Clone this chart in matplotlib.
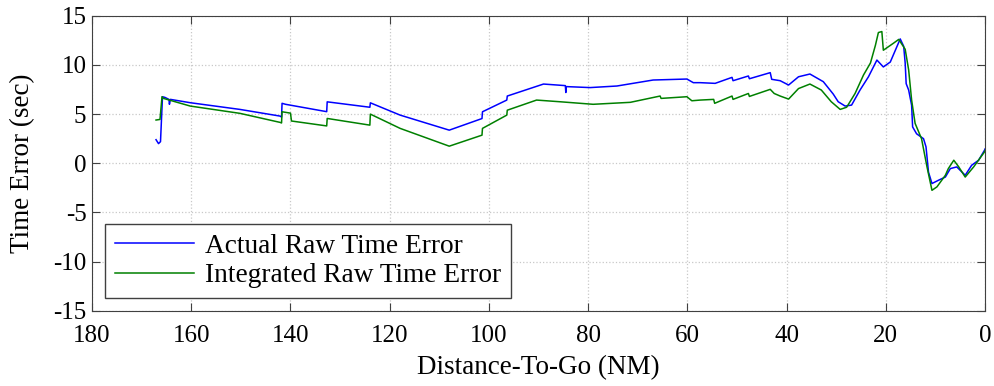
import matplotlib.pyplot as plt

# --- data (distance-to-go in NM, time error in sec)
actual_x = [167.1, 166.6, 166.2, 165.8, 165.3, 164.5, 164.4, 164.2, 160.2, 150.2, 142.1, 141.8, 141.7, 141.0,
            132.7, 132.6, 124.0, 123.9, 117.9, 108.0, 101.4, 101.3, 96.4, 96.3, 89.0, 84.6, 84.5,
            84.4, 79.6, 74.2, 66.9, 60.1, 58.8, 57.4, 54.4, 51.0, 50.8, 47.7, 47.5, 43.3, 43.0,
            41.3, 39.6, 37.6, 35.3, 32.6, 30.6, 29.6, 28.2, 26.9, 25.2, 23.5, 21.8, 20.5, 19.1,
            17.1, 16.4, 16.1, 15.9, 15.4, 14.8, 14.6, 13.8, 12.4, 11.9, 11.4, 10.7, 9.4, 8.0, 7.0,
            5.7, 4.0, 2.7, 1.3, 0.1, 0.0]
actual_y = [2.4, 2.0, 2.2, 6.77, 6.7, 6.5, 6.0, 6.5, 6.16, 5.48, 4.8, 4.7, 6.1, 6.0,
            5.25, 6.25, 5.7, 6.15, 4.9, 3.37, 4.55, 5.24, 6.43, 6.84, 8.06, 7.9, 7.2,
            7.8, 7.7, 7.86, 8.47, 8.57, 8.2, 8.2, 8.13, 8.74, 8.4, 8.88, 8.6, 9.22, 8.54,
            8.4, 7.96, 8.8, 9.08, 8.3, 7.04, 6.26, 5.82, 5.92, 7.45, 8.8, 10.5, 9.8, 10.3,
            12.65, 11.9, 10.2, 8.1, 7.45, 5.9, 3.7, 3.0, 2.5, 1.67, -0.9, -2.06, -1.73, -1.4, -0.54,
            -0.37, -1.22, -0.2, 0.31, 1.33, 1.45]

integrated_x = [167.1, 166.3, 165.9, 165.6, 160.2, 150.2, 142.1, 141.8, 141.7, 140.0, 139.8,
                132.7, 132.6, 124.0, 123.9, 117.9, 108.0, 101.4, 101.3, 96.4, 96.3, 90.4, 85.7,
                79.0, 71.5, 65.5, 65.3, 60.1, 59.1, 57.4, 54.7, 54.5, 51.0, 50.8, 47.7, 47.5,
                43.3, 42.5, 41.3, 39.6, 37.6, 35.3, 33.0, 31.0, 29.2, 27.9, 26.2, 24.5, 23.1,
                22.1, 21.5, 20.8, 20.5, 18.5, 17.4, 16.1, 15.4, 14.8, 14.1, 12.8, 11.7, 10.7, 9.7,
                8.0, 7.4, 6.3, 5.3, 4.0, 2.3, 0.1, 0.0]
integrated_y = [4.4, 4.46, 6.77, 6.6, 5.82, 5.08, 4.16, 4.1, 5.24, 5.1, 4.3,
                3.8, 4.56, 3.88, 5.0, 3.55, 1.74, 2.86, 3.55, 4.9, 5.4, 6.43, 6.26,
                6.0, 6.2, 6.84, 6.6, 6.77, 6.36, 6.43, 6.5, 6.1, 6.84, 6.5, 7.1, 6.8,
                7.52, 7.1, 6.84, 6.53, 7.6, 8.06, 7.45, 6.26, 5.48, 5.7, 7.1, 8.98, 10.2,
                12.0, 13.3, 13.4, 11.5, 12.2, 12.6, 11.6, 9.5, 6.43, 4.06, 2.5, -0.37, -2.75, -2.4,
                -1.22, -0.54, 0.31, -0.37, -1.4, -0.37, 1.16, 1.3]

x_ticks = [180, 160, 140, 120, 100, 80, 60, 40, 20, 0]
y_ticks = [-15, -10, -5, 0, 5, 10, 15]

plt.rcParams['font.family'] = ['Liberation Serif', 'DejaVu Serif']
plt.rcParams['axes.unicode_minus'] = False

fig = plt.figure(figsize=(9.95, 3.86), dpi=100)
ax = fig.add_axes([0.0925, 0.195, 0.8975, 0.764])

ax.plot(actual_x, actual_y, color='#0000ff', lw=1.1, label='Actual Raw Time Error')
ax.plot(integrated_x, integrated_y, color='#008000', lw=1.1, label='Integrated Raw Time Error')

ax.set_xlim(180, 0)
ax.set_ylim(-15, 15)
ax.set_xticks(x_ticks)
ax.set_yticks(y_ticks)
ax.tick_params(direction='in', top=True, right=True, labelsize=18, length=6,
               color='#404040', pad=4)
ax.tick_params(axis='x', pad=10)
for s in ax.spines.values():
    s.set_color('#404040')
ax.grid(True, linestyle=':', color='#c8c8c8', linewidth=0.9)

ax.set_xlabel('Distance-To-Go (NM)', fontsize=19.5, labelpad=6)
ax.set_ylabel('Time Error (sec)', fontsize=19.5, labelpad=13)

leg = ax.legend(loc='lower left', fontsize=19.7, fancybox=False, framealpha=1,
                edgecolor='#404040', bbox_to_anchor=(0.0146, 0.044), borderaxespad=0,
                handlelength=2.9, handletextpad=0.4, labelspacing=0.15, borderpad=0.35)
leg.get_frame().set_linewidth(1.0)

fig.savefig('out.png', dpi=100)
